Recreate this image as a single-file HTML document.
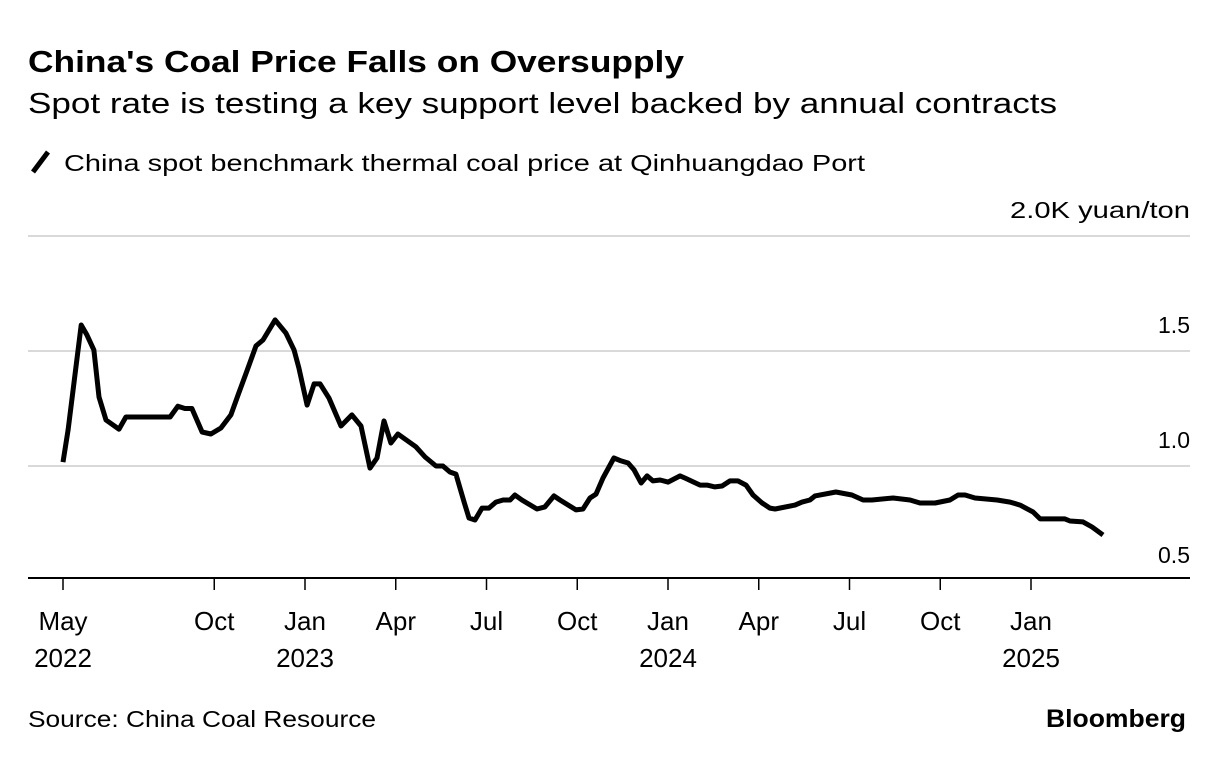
<!DOCTYPE html>
<html><head><meta charset="utf-8">
<style>
body{margin:0;background:#fff;width:1224px;height:776px;overflow:hidden;font-family:"Liberation Sans",sans-serif;color:#000}
svg text{font-family:"Liberation Sans",sans-serif}
</style></head>
<body>
<svg width="1224" height="776">
<text x="28" y="72" font-size="31" font-weight="bold" textLength="656" lengthAdjust="spacingAndGlyphs">China's Coal Price Falls on Oversupply</text>
<text x="28" y="113" font-size="29" textLength="1029" lengthAdjust="spacingAndGlyphs">Spot rate is testing a key support level backed by annual contracts</text>
<line x1="33" y1="172" x2="48" y2="152" stroke="#000" stroke-width="5"/>
<text x="64" y="171" font-size="23" textLength="801" lengthAdjust="spacingAndGlyphs">China spot benchmark thermal coal price at Qinhuangdao Port</text>
<text x="1190" y="218" font-size="23" text-anchor="end" textLength="180" lengthAdjust="spacingAndGlyphs">2.0K yuan/ton</text>
<g id="grid"></g>
<g id="xaxis"></g>
<path id="line" fill="none" stroke="#000" stroke-width="5" stroke-linejoin="round"/>
<text x="28" y="727" font-size="23" textLength="348" lengthAdjust="spacingAndGlyphs">Source: China Coal Resource</text>
<text x="1186" y="727" font-size="25" font-weight="bold" text-anchor="end" textLength="140" lengthAdjust="spacingAndGlyphs">Bloomberg</text>
</svg>
<script>
const yTicks=[0.5,1.0,1.5];
const yTickLabels=["0.5","1.0","1.5"];
const xTickMonths=[0,5,8,11,14,17,20,23,26,29,32];
const xTickLabels=["May","Oct","Jan","Apr","Jul","Oct","Jan","Apr","Jul","Oct","Jan"];
const xTickYears=["2022","","2023","","","","2024","","","","2025"];
const pxs=[63,68,81,87,94,99,106,119,126,170,178,185,192,202,211,221,231,238,247,256,263,275,286,294,299,307,314,320,329,341,352,361,370,377,384,391,398,416,425,436,443,450,456,464,469,475,482,489,496,503,510,515,522,537,545,554,560,576,583,590,596,603,614,621,628,634,641,647,653,660,668,680,685,700,707,715,722,730,738,746,753,762,770,775,795,802,810,815,836,852,863,872,893,910,920,935,950,958,965,975,997,1010,1020,1033,1040,1053,1065,1070,1083,1092,1103];
const months=pxs.map(p=>+((p-63)/30.25).toFixed(2));
const values=[1.017,1.157,1.613,1.57,1.504,1.30,1.20,1.16,1.213,1.213,1.26,1.25,1.25,1.148,1.139,1.165,1.222,1.309,1.413,1.522,1.548,1.635,1.578,1.504,1.426,1.265,1.357,1.357,1.296,1.174,1.222,1.174,0.991,1.035,1.196,1.10,1.139,1.083,1.039,1.00,1.00,0.974,0.965,0.843,0.774,0.765,0.817,0.817,0.843,0.852,0.852,0.874,0.852,0.813,0.822,0.87,0.852,0.809,0.813,0.861,0.878,0.948,1.035,1.022,1.013,0.983,0.926,0.957,0.935,0.939,0.93,0.957,0.948,0.917,0.917,0.909,0.913,0.935,0.935,0.917,0.874,0.839,0.817,0.813,0.83,0.843,0.852,0.87,0.887,0.874,0.852,0.852,0.861,0.852,0.839,0.839,0.852,0.874,0.874,0.861,0.852,0.843,0.83,0.8,0.77,0.77,0.77,0.761,0.757,0.735,0.70];
const NS="http://www.w3.org/2000/svg";
const xS=m=>63+m*30.25;
const yS=v=>581-(v-0.5)*230;
const grid=document.getElementById('grid');
[2.0,1.5,1.0].forEach(v=>{
 const l=document.createElementNS(NS,'line');
 l.setAttribute('x1',28);l.setAttribute('x2',1190);l.setAttribute('y1',yS(v));l.setAttribute('y2',yS(v));
 l.setAttribute('stroke','#d9d9d9');l.setAttribute('stroke-width',2);
 
 
 grid.appendChild(l);
});
yTicks.forEach((v,i)=>{
 const t=document.createElementNS(NS,'text');
 t.setAttribute('x',1190);t.setAttribute('y',yS(v)-18);t.setAttribute('text-anchor','end');t.setAttribute('font-size',23);
 t.textContent=yTickLabels[i];
 
 
 grid.appendChild(t);
});
const xa=document.getElementById('xaxis');
const base=document.createElementNS(NS,'line');
base.setAttribute('x1',28);base.setAttribute('x2',1190);base.setAttribute('y1',578);base.setAttribute('y2',578);
base.setAttribute('stroke','#000');base.setAttribute('stroke-width',2);


xa.appendChild(base);
xTickMonths.forEach((m,i)=>{
 const x=xS(m);
 const tk=document.createElementNS(NS,'line');
 tk.setAttribute('x1',x);tk.setAttribute('x2',x);tk.setAttribute('y1',578);tk.setAttribute('y2',590);
 tk.setAttribute('stroke','#000');tk.setAttribute('stroke-width',1.5);
 
 
 xa.appendChild(tk);
 const t=document.createElementNS(NS,'text');
 t.setAttribute('x',x);t.setAttribute('y',630);t.setAttribute('text-anchor','middle');t.setAttribute('font-size',26);
 t.textContent=xTickLabels[i];
 
 
 xa.appendChild(t);
 if(xTickYears[i]){
  const y=document.createElementNS(NS,'text');
  y.setAttribute('x',x);y.setAttribute('y',667);y.setAttribute('text-anchor','middle');y.setAttribute('font-size',26);
  y.textContent=xTickYears[i];
  
  
  xa.appendChild(y);
 }
});
document.getElementById('line').setAttribute('d',months.map((m,i)=>(i?'L':'M')+xS(m).toFixed(1)+' '+yS(values[i]).toFixed(1)).join(' '));
</script>
</body></html>
